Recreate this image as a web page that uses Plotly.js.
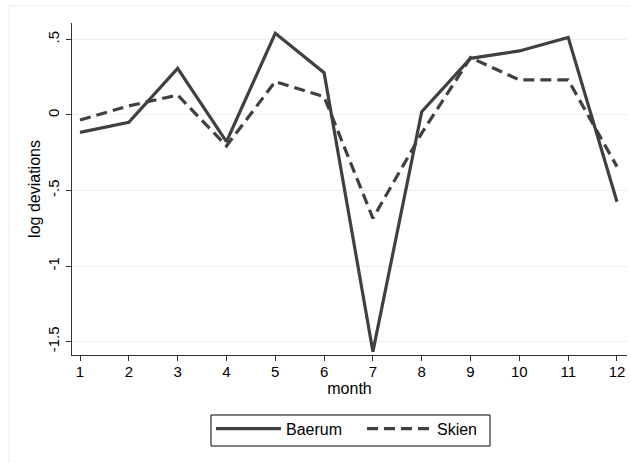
<!DOCTYPE html>
<html>
<head>
<meta charset="utf-8">
<script src="https://cdn.plot.ly/plotly-3.0.1.min.js"></script>
<style>html,body{margin:0;padding:0;background:#fff;}#chart{width:631px;height:463px;}</style>
</head>
<body>
<div id="chart"></div>
<script>
var months = [1, 2, 3, 4, 5, 6, 7, 8, 9, 10, 11, 12];
var baerum = [-0.115, -0.048, 0.309, -0.177, 0.541, 0.280, -1.567, 0.022, 0.375, 0.424, 0.514, -0.574];
var skien  = [-0.033, 0.060, 0.132, -0.205, 0.221, 0.121, -0.684, -0.120, 0.380, 0.232, 0.232, -0.342];
var seriesNames = ["Baerum", "Skien"];
var yTickVals = [-1.5, -1, -0.5, 0, 0.5];
var yTickText = ["-1.5", "-1", "-.5", "0", ".5"];
var xTickVals = months;
var xTickText = ["1","2","3","4","5","6","7","8","9","10","11","12"];

var lineCol = "#404040";
var font = "Liberation Sans, Arial, sans-serif";

var traces = [
  {x: months, y: baerum, name: seriesNames[0], type: "scatter", mode: "lines",
   line: {color: lineCol, width: 3.2}, legend: "legend"},
  {x: months, y: skien, name: seriesNames[1], type: "scatter", mode: "lines",
   line: {color: lineCol, width: 3.2, dash: "11px,6px"}, legend: "legend2"}
];

var legendCommon = {
  orientation: "h", xanchor: "left", y: -0.171, yanchor: "top",
  borderwidth: 0, bgcolor: "rgba(0,0,0,0)",
  font: {family: font, size: 16, color: "#000"},
  itemwidth: 65
};

var layout = {
  width: 631, height: 463,
  margin: {l: 72, r: 4, t: 23, b: 108, pad: 0},
  paper_bgcolor: "#ffffff", plot_bgcolor: "#ffffff",
  font: {family: font, size: 15, color: "#000"},
  showlegend: true,
  legend: Object.assign({}, legendCommon, {x: 0.2504}),
  legend2: Object.assign({}, legendCommon, {x: 0.5225}),
  xaxis: {
    range: [0.836, 12.205], tickmode: "array", tickvals: xTickVals, ticktext: xTickText,
    showgrid: false, zeroline: false, showline: true, linecolor: "#333", linewidth: 1,
    ticks: "outside", ticklen: 5, tickcolor: "#333", tickwidth: 1,
    ticklabelstandoff: -2,
    tickfont: {family: font, size: 15, color: "#000"},
    title: {text: "month", font: {family: font, size: 16, color: "#000"}, standoff: 0}
  },
  yaxis: {
    range: [-1.589, 0.609], tickmode: "array", tickvals: yTickVals, ticktext: yTickText,
    showgrid: true, gridcolor: "#e8f0f1", gridwidth: 1, zeroline: false,
    showline: true, linecolor: "#333", linewidth: 1,
    ticks: "outside", ticklen: 5, tickcolor: "#333", tickwidth: 1, tickangle: -90,
    ticklabelstandoff: 1,
    tickfont: {family: font, size: 15, color: "#000"},
    title: {text: "log deviations", font: {family: font, size: 16, color: "#000"}, standoff: 0}
  },
  shapes: [
    {type: "line", xref: "paper", yref: "paper", xsizemode: "pixel", ysizemode: "pixel",
     xanchor: 0, yanchor: 1, x0: -63, x1: 560, y0: 17, y1: 17,
     line: {color: "#e6edef", width: 1}},
    {type: "line", xref: "paper", yref: "paper", xsizemode: "pixel", ysizemode: "pixel",
     xanchor: 0, yanchor: 1, x0: -63, x1: -63, y0: 17, y1: -445,
     line: {color: "#e6edef", width: 1}},
    {type: "rect", xref: "paper", yref: "paper", xsizemode: "pixel", ysizemode: "pixel",
     xanchor: 0, yanchor: 0, x0: 139, x1: 418, y0: -60, y1: -91,
     line: {color: "#000", width: 1}, fillcolor: "rgba(0,0,0,0)"}
  ]
};

Plotly.newPlot("chart", traces, layout, {displayModeBar: false, staticPlot: true});
</script>
</body>
</html>
